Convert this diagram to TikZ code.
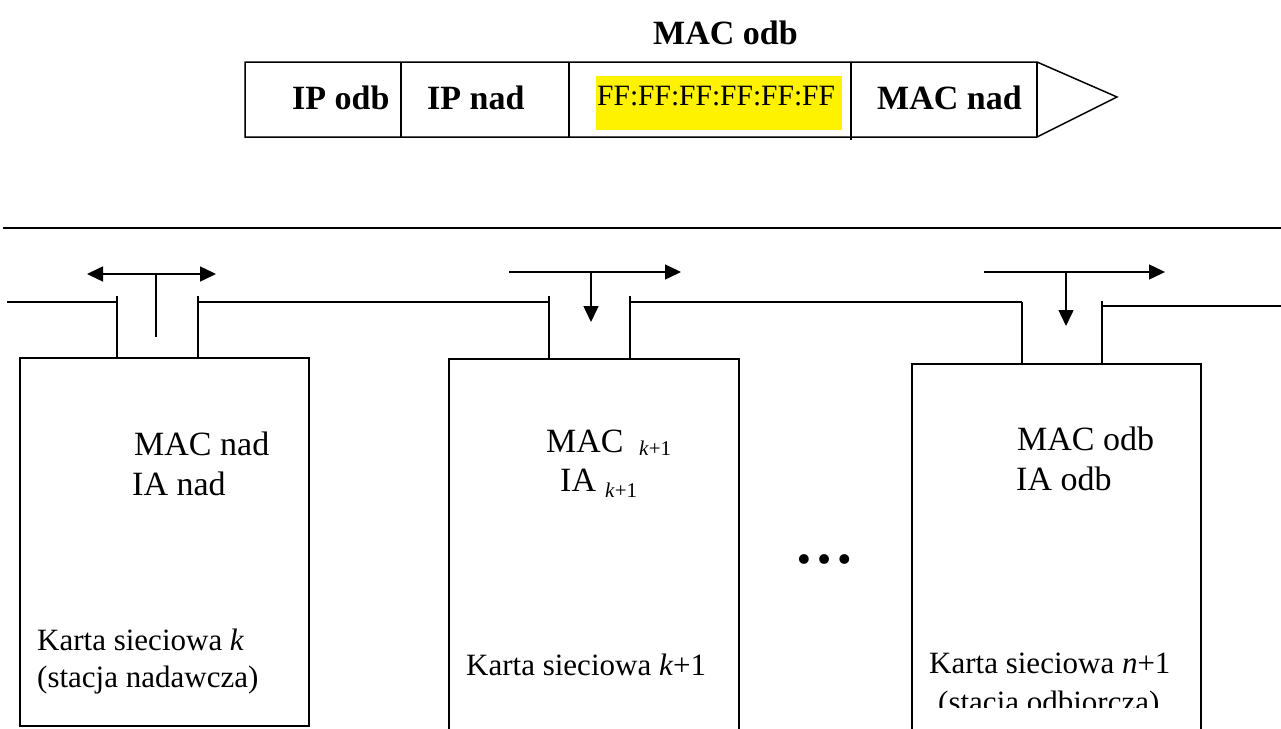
\documentclass[tikz,border=0pt]{standalone}
\usepackage{fontspec}
\setmainfont{Liberation Serif}
\usetikzlibrary{arrows.meta}
\tikzset{
  wire/.style={line width=1.5pt},
  thick2/.style={line width=2pt},
  tip/.style={-{Triangle[length=16pt,width=15pt]}},
  tips/.style={{Triangle[length=16pt,width=15pt]}-{Triangle[length=16pt,width=15pt]}},
  lbl/.style={inner sep=0pt, anchor=base west},
  bigb/.style={lbl, font=\fontsize{34}{40}\selectfont\bfseries},
  big/.style={lbl, font=\fontsize{34}{40}\selectfont},
  sub/.style={lbl, font=\fontsize{21}{24}\selectfont},
  mid/.style={lbl, font=\fontsize{31}{37}\selectfont},
  ffs/.style={lbl, font=\fontsize{29.5}{32}\selectfont},
}
\begin{document}
\begin{tikzpicture}[x=1pt,y=-1pt]
\useasboundingbox (0,0) rectangle (1281,728);
\clip (0,0) rectangle (1281,728);
\fill[white] (0,0) rectangle (1281,728);

% ---- frame ----
\node[bigb] (title) at (653,44) {MAC odb};
\fill[yellow] (596,76) rectangle (842,130);
\draw[wire] (245,62) -- (1037,62) -- (1117,97) -- (1037,137) -- (245,137) -- cycle;
\draw[wire] (401,62) -- (401,137);
\draw[wire] (569,62) -- (569,137);
\draw[wire] (851,62) -- (851,140);
\draw[wire] (1037,62) -- (1037,137);
\node[bigb] (ipodb) at (292,109) {IP odb};
\node[bigb] (ipnad) at (427,109) {IP nad};
\node[ffs] (ff) at (597,105) {FF:FF:FF:FF:FF:FF};
\node[bigb] (macnad) at (877,109) {MAC nad};

% ---- separator ----
\draw[thick2] (3,228) -- (1281,228);

% ---- bus ----
\draw[wire] (7,302) -- (117,302);
\draw[wire] (198,302) -- (549,302);
\draw[wire] (630,302) -- (1022,302);
\draw[wire] (1102,306) -- (1281,306);
% posts
\draw[wire] (117,296) -- (117,358);
\draw[wire] (198,296) -- (198,358);
\draw[wire] (549,296) -- (549,359);
\draw[wire] (630,296) -- (630,359);
\draw[wire] (1022,302) -- (1022,364);
\draw[wire] (1102,301) -- (1102,364);

% ---- arrows ----
\coordinate (a1l) at (87,274);
\coordinate (a1r) at (216,274);
\coordinate (s1t) at (156,274);
\coordinate (s1b) at (156,337);
\draw[wire,tips] (a1l) -- (a1r);
\draw[wire] (s1t) -- (s1b);

\coordinate (a2l) at (509,272);
\coordinate (a2r) at (681,272);
\coordinate (d2t) at (591,272);
\coordinate (d2b) at (591,322);
\draw[wire,tip] (a2l) -- (a2r);
\draw[wire,tip] (d2t) -- (d2b);

\coordinate (a3l) at (984,272);
\coordinate (a3r) at (1165,272);
\coordinate (d3t) at (1066,272);
\coordinate (d3b) at (1066,326);
\draw[wire,tip] (a3l) -- (a3r);
\draw[wire,tip] (d3t) -- (d3b);

% ---- boxes ----
\draw[wire] (20,358) rectangle (309,726);
\draw[wire] (449,740) -- (449,359) -- (739,359) -- (739,740);
\draw[wire] (912,740) -- (912,364) -- (1201,364) -- (1201,740);

% ---- box texts ----
\node[big] (m1) at (134,455) {MAC nad};
\node[big] (i1) at (132,495) {IA nad};
\node[big] (m2) at (546,452) {MAC};
\node[sub] (m2s) at (639,455) {\textit{k}+1};
\node[big] (i2) at (560,491) {IA};
\node[sub] (i2s) at (605,497) {\textit{k}+1};
\node[big] (m3) at (1017,450) {MAC odb};
\node[big] (i3) at (1016,490) {IA odb};

\node[lbl, font=\fontsize{60}{60}\selectfont\bfseries] (dots) at (794,563) {…};

\node[mid] (k1) at (37,650) {Karta sieciowa \textit{k}};
\node[mid] (k1b) at (37,687) {(stacja nadawcza)};
\node[mid] (k2) at (466,675) {Karta sieciowa \textit{k}+1};
\node[mid] (k3) at (929,673) {Karta sieciowa \textit{n}+1};
\begin{scope}
\clip (912,600) rectangle (1201,707);
\node[mid] (k3b) at (938,712) {(stacja odbiorcza)};
\end{scope}
\end{tikzpicture}
\end{document}
